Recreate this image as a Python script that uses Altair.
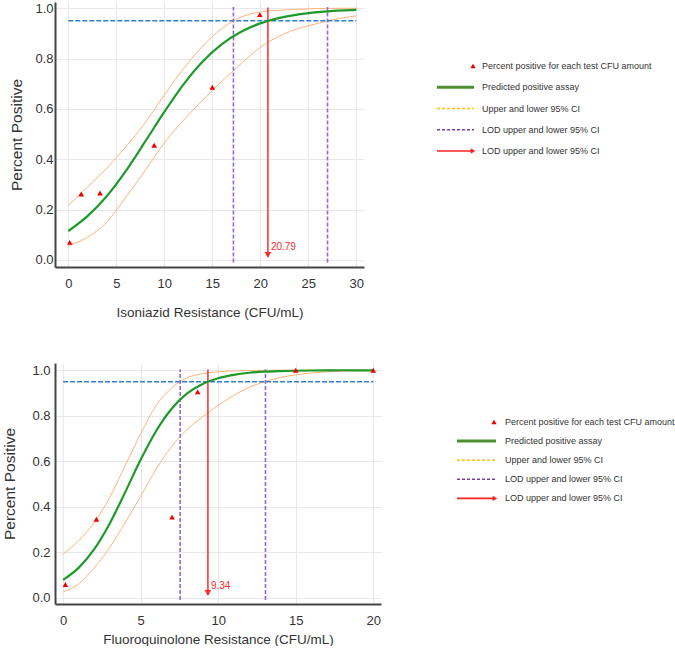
import altair as alt
import pandas as pd

# ---------------- data: top panel (Isoniazid) ----------------
inh_pts_x = [0.15, 1.35, 3.3, 8.95, 15.0, 19.95]
inh_pts_y = [0.07, 0.262, 0.266, 0.456, 0.686, 0.975]
inh_curve_x = [0, 2, 4, 6, 8, 10, 12, 14, 16, 18, 20, 22, 24, 26, 28, 30]
inh_fit = [0.115, 0.174, 0.253, 0.354, 0.470, 0.588, 0.698, 0.789, 0.858, 0.907, 0.940, 0.962, 0.976, 0.985, 0.991, 0.994]
inh_upper = [0.216, 0.29, 0.365, 0.45, 0.545, 0.655, 0.76, 0.85, 0.92, 0.965, 0.985, 0.992, 0.996, 0.999, 1.0, 1.0]
inh_lower = [0.057, 0.09, 0.15, 0.25, 0.355, 0.465, 0.555, 0.635, 0.71, 0.78, 0.845, 0.89, 0.92, 0.94, 0.958, 0.97]
inh_lod_ci = [17.2, 27.0]
inh_lod = 20.79
inh_ticks_x = [0, 5, 10, 15, 20, 25, 30]

# ---------------- data: bottom panel (Fluoroquinolone) ----------------
flq_pts_x = [0.15, 2.15, 7.03, 8.68, 15.0, 20.0]
flq_pts_y = [0.058, 0.345, 0.354, 0.905, 1.0, 1.0]
flq_curve_x = [0, 1, 2, 3, 4, 5, 6, 7, 8, 9, 10, 11, 12, 13, 14, 15, 16, 17, 18, 19, 20]
flq_fit = [0.078, 0.131, 0.212, 0.325, 0.463, 0.606, 0.733, 0.831, 0.898, 0.940, 0.965, 0.980, 0.989, 0.994, 0.9965, 0.998, 0.999, 0.9995, 1.0, 1.0, 1.0]
flq_upper = [0.192, 0.25, 0.33, 0.44, 0.58, 0.72, 0.845, 0.922, 0.967, 0.985, 0.993, 0.997, 0.999, 1.0, 1.0, 1.0, 1.0, 1.0, 1.0, 1.0, 1.0]
flq_lower = [0.025, 0.06, 0.13, 0.22, 0.33, 0.445, 0.565, 0.665, 0.74, 0.795, 0.845, 0.89, 0.925, 0.95, 0.968, 0.98, 0.988, 0.993, 0.996, 0.998, 0.999]
flq_lod_ci = [7.55, 13.05]
flq_lod = 9.34
flq_ticks_x = [0, 5, 10, 15, 20]

threshold = 0.95
y_ticks = [0.0, 0.2, 0.4, 0.6, 0.8, 1.0]

legend_labels = [
    "Percent positive for each test CFU amount",
    "Predicted positive assay",
    "Upper and lower 95% CI",
    "LOD upper and lower 95% CI",
    "LOD upper and lower 95% CI",
]

AX_FONT = "Liberation Sans, Arial, sans-serif"
LEG_FONT = "Liberation Sans, Arial, sans-serif"
GREEN = "#1f9a2a"
ORANGE = "#ffb27a"
BLUE = "#2f7fd0"
PURPLE = "#9466d2"
RED = "#ff2a2a"


def panel(px, py, cx, fit, up, lo, lod_ci, lod, xticks, xdom, ydom, w, h, xtitle,
          lab_pad_x, title_pad_x, lab_pad_y, title_pad_y):
    pts = pd.DataFrame({"x": px, "y": py})
    curves = pd.DataFrame({"x": cx, "fit": fit, "upper": up, "lower": lo})
    xmax = xticks[-1]
    xs = alt.Scale(domain=xdom, nice=False, zero=False)
    ys = alt.Scale(domain=ydom, nice=False, zero=False)
    xaxis = alt.Axis(values=xticks, title=xtitle, grid=True, gridColor="#e8e8e8",
                     domainColor="#444444", domainWidth=2, ticks=False,
                     labelFont=AX_FONT, labelFontSize=13, labelColor="#333333",
                     labelPadding=lab_pad_x, titleFont=AX_FONT, titleFontSize=13.5,
                     titleFontWeight="normal", titleColor="#333333", titlePadding=title_pad_x)
    yaxis = alt.Axis(values=y_ticks, format=".1f", title="Percent Positive", grid=True,
                     gridColor="#e8e8e8", domainColor="#444444", domainWidth=2, ticks=False,
                     labelFont=AX_FONT, labelFontSize=13, labelColor="#333333",
                     labelPadding=lab_pad_y, titleFont=AX_FONT, titleFontSize=15.5,
                     titleFontWeight="normal", titleColor="#333333", titlePadding=title_pad_y)

    base_c = alt.Chart(curves)
    upper_l = base_c.mark_line(color=ORANGE, strokeWidth=1, interpolate="monotone").encode(
        x=alt.X("x:Q", scale=xs, axis=xaxis), y=alt.Y("upper:Q", scale=ys, axis=yaxis))
    lower_l = base_c.mark_line(color=ORANGE, strokeWidth=1, interpolate="monotone").encode(
        x=alt.X("x:Q", scale=xs), y=alt.Y("lower:Q", scale=ys))
    fit_l = base_c.mark_line(color=GREEN, strokeWidth=2.2, interpolate="monotone").encode(
        x=alt.X("x:Q", scale=xs), y=alt.Y("fit:Q", scale=ys))

    hline = alt.Chart(pd.DataFrame({"x": [0], "x2": [xmax], "y": [threshold]})).mark_rule(
        color=BLUE, strokeWidth=1.5, strokeDash=[5, 2]).encode(
        x=alt.X("x:Q", scale=xs), x2="x2:Q", y=alt.Y("y:Q", scale=ys))

    vlines = alt.Chart(pd.DataFrame({"x": lod_ci, "y": [-0.01] * 2, "y2": [1.005] * 2})).mark_rule(
        color=PURPLE, strokeWidth=1.6, strokeDash=[4, 2]).encode(
        x=alt.X("x:Q", scale=xs), y=alt.Y("y:Q", scale=ys), y2="y2:Q")

    lod_df = pd.DataFrame({"x": [lod], "y": [0.012], "y2": [1.003], "ty": [0.05],
                           "label": [f"{lod:.2f}"]})
    red = alt.Chart(lod_df).mark_rule(color=RED, strokeWidth=1.5).encode(
        x=alt.X("x:Q", scale=xs), y=alt.Y("y:Q", scale=ys), y2="y2:Q")
    head = alt.Chart(lod_df).mark_point(shape="triangle-down", filled=True, color=RED,
                                        size=45, opacity=1, yOffset=-2).encode(
        x=alt.X("x:Q", scale=xs), y=alt.Y("y:Q", scale=ys))
    lab = alt.Chart(lod_df).mark_text(color=RED, align="left", baseline="middle", dx=3,
                                      font=LEG_FONT, fontSize=10).encode(
        x=alt.X("x:Q", scale=xs), y=alt.Y("ty:Q", scale=ys), text="label:N")

    points = alt.Chart(pts).mark_point(shape="triangle-up", filled=True, color="#ee0000",
                                       size=32, opacity=1).encode(
        x=alt.X("x:Q", scale=xs), y=alt.Y("y:Q", scale=ys))

    return alt.layer(upper_l, lower_l, hline, vlines, red, head, lab, fit_l, points).properties(
        width=w, height=h)


def legend(h, d0, d1, x_line0, x_line1, x_tri, x_text, w):
    df = pd.DataFrame({"idx": list(range(len(legend_labels))), "label": legend_labels})
    ys = alt.Scale(domain=[d0, d1], reverse=True, nice=False, zero=False)
    yenc = alt.Y("idx:Q", scale=ys, axis=None)
    base = alt.Chart(df)
    txt = base.mark_text(align="left", baseline="middle", font=LEG_FONT, fontSize=9,
                         color="#333333").encode(x=alt.value(x_text), y=yenc, text="label:N")
    tri = base.transform_filter("datum.idx == 0").mark_point(
        shape="triangle-up", filled=True, color="#ee0000", size=28, opacity=1).encode(
        x=alt.value(x_tri), y=yenc)
    g = base.transform_filter("datum.idx == 1").mark_rule(color="#4f8f32", strokeWidth=3).encode(
        x=alt.value(x_line0), x2=alt.value(x_line1), y=yenc)
    yl = base.transform_filter("datum.idx == 2").mark_rule(
        color="#ffc000", strokeWidth=1.5, strokeDash=[3, 2]).encode(
        x=alt.value(x_line0), x2=alt.value(x_line1), y=yenc)
    pl = base.transform_filter("datum.idx == 3").mark_rule(
        color="#7a3db0", strokeWidth=1.5, strokeDash=[3, 2]).encode(
        x=alt.value(x_line0), x2=alt.value(x_line1), y=yenc)
    rl = base.transform_filter("datum.idx == 4").mark_rule(color="#ff2020", strokeWidth=1.6).encode(
        x=alt.value(x_line0), x2=alt.value(x_line1 - 2), y=yenc)
    rh = base.transform_filter("datum.idx == 4").mark_point(
        shape="triangle-right", filled=True, color="#ff2020", size=28, opacity=1).encode(
        x=alt.value(x_line1 - 1), y=yenc)
    return alt.layer(g, yl, pl, rl, rh, tri, txt).properties(width=w, height=h)


top = panel(inh_pts_x, inh_pts_y, inh_curve_x, inh_fit, inh_upper, inh_lower, inh_lod_ci,
            inh_lod, inh_ticks_x, [-1.385, 30.8], [-0.028, 1.025], 309, 265,
            "Isoniazid Resistance (CFU/mL)", 10, 15, 2, 10)
bottom = panel(flq_pts_x, flq_pts_y, flq_curve_x, flq_fit, flq_upper, flq_lower, flq_lod_ci,
               flq_lod, flq_ticks_x, [-0.52, 20.5], [-0.028, 1.032], 326, 241,
               "Fluoroquinolone Resistance (CFU/mL)", 10, 5, 5, 14)

top_leg = legend(265, -3.012, 9.459, 7, 44, 43, 52, 225)
bot_leg = legend(241, -3.089, 9.529, 7, 46, 44, 55, 220)

chart = alt.vconcat(
    alt.hconcat(top, top_leg, spacing=66),
    alt.hconcat(bottom, bot_leg, spacing=69),
    spacing=44,
).properties(
    padding={"left": 2, "top": 2, "right": 0, "bottom": 0},
    background="white",
).configure_view(strokeWidth=0)

chart.save("out.html", embed_options={"renderer": "svg", "actions": False})
